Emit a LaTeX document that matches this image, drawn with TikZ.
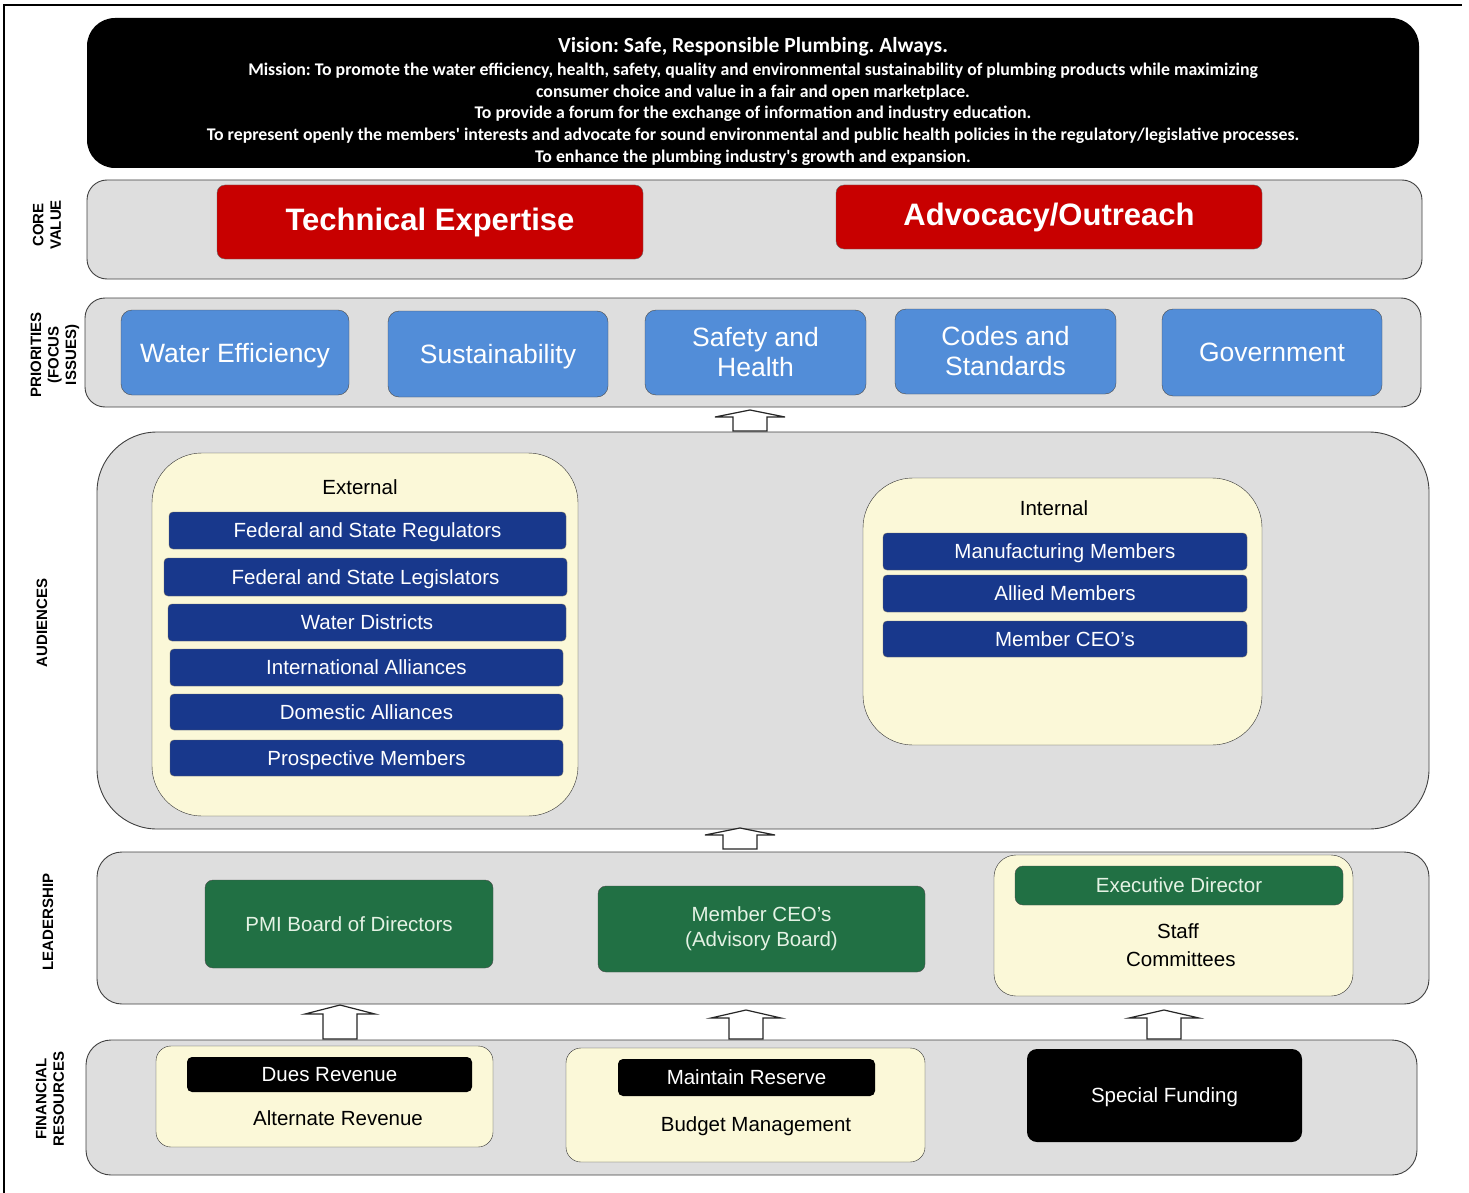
\documentclass[tikz,border=0pt]{standalone}
\usepackage{fontspec}
\setmainfont{Liberation Sans}
\newfontfamily\missionfont{Carlito}
\usetikzlibrary{positioning}
\frenchspacing
\definecolor{bandgray}{RGB}{222,222,222}
\definecolor{corered}{RGB}{200,0,0}
\definecolor{focusblue}{RGB}{82,141,216}
\definecolor{navy}{RGB}{24,56,140}
\definecolor{leadgreen}{RGB}{33,112,68}
\definecolor{paletext}{RGB}{228,242,228}
\definecolor{cream}{RGB}{251,248,216}
\tikzstyle{band} = [draw=black!75,line width=0.9pt,fill=bandgray,rounded corners=20pt,inner sep=0]
\tikzstyle{vision} = [fill=black,rounded corners=28pt,inner sep=0]
\tikzstyle{corebox} = [draw=black!60,fill=corered,rounded corners=8pt,text=white,font=\fontsize{31}{36}\selectfont\bfseries]
\tikzstyle{focus} = [draw=black!70,fill=focusblue,rounded corners=11pt,text=white,align=center,font=\fontsize{26.5}{30}\selectfont]
\tikzstyle{group} = [draw=black!80,fill=cream,inner sep=0]
\tikzstyle{aud} = [draw=black!60,fill=navy,rounded corners=4pt,text=white,text depth=0pt,font=\fontsize{20.5}{24}\selectfont]
\tikzstyle{lead} = [draw=black!70,fill=leadgreen,rounded corners=8pt,text=paletext,align=center,font=\fontsize{20.5}{25}\selectfont]
\tikzstyle{fund} = [fill=black,rounded corners=5pt,text=white,text depth=0pt,font=\fontsize{20.5}{24}\selectfont]
\tikzstyle{plain} = [align=center,font=\fontsize{20.5}{28}\selectfont]
\tikzstyle{oneline} = [text depth=0pt]
\tikzstyle{side} = [rotate=90,align=center,font=\fontsize{15}{17.5}\selectfont\bfseries]
\tikzstyle{blockarrow} = [draw=black!85,line width=1.2pt,fill=white]
% block arrow pointing up: base point, shaft length, head length
\def \blockup#1#2#3{\draw[blockarrow] (#1) ++(-17,0) -- ++(0,-#2) -- ++(-18,0) -- ++(35,-#3) -- ++(35,#3) -- ++(-18,0) -- ++(0,#2) -- cycle;}

\begin{document}
\begin{tikzpicture}[x=1pt,y=-1pt]
  \useasboundingbox (0,0) rectangle (1469,1193);
  \draw[line width=1.5pt] (4,1193) -- (4,5) -- (1462,5);

  % vision and mission
  \node[vision,minimum width=1332,minimum height=150] (vision) at (753,93) {};
  \node[text=white,align=center,font=\missionfont\bfseries\fontsize{17.8}{21.75}\selectfont] (mission) at (753,101.5)
    {{\fontsize{21.5}{24}\selectfont Vision: Safe, Responsible Plumbing. Always.}\\[1pt]
     Mission: To promote the water efficiency, health, safety, quality and environmental sustainability of plumbing products while maximizing\\
     consumer choice and value in a fair and open marketplace.\\
     To provide a forum for the exchange of information and industry education.\\
     To represent openly the members' interests and advocate for sound environmental and public health policies in the regulatory/legislative processes.\\
     To enhance the plumbing industry's growth and expansion.};

  % core value
  \node[band,minimum width=1335,minimum height=99] (core) at (754.5,229.5) {};
  \node[side] (corelbl) at (47,225) {CORE\\VALUE};
  \node[corebox,minimum width=426,minimum height=74] (tech) at (430,222) {Technical Expertise};
  \node[corebox,minimum width=426,minimum height=64] (advo) at (1049,217) {Advocacy/Outreach};

  % priorities
  \node[band,minimum width=1336,minimum height=109] (prio) at (753,352.5) {};
  \node[side] (priolbl) at (55,355) {PRIORITIES\\(FOCUS\\ISSUES)};
  \node[focus,oneline,minimum width=228,minimum height=85] (water) at (235,352.5) {Water Efficiency};
  \node[focus,oneline,minimum width=220,minimum height=86] (sust) at (498,354) {Sustainability};
  \node[focus,minimum width=221,minimum height=85] (safety) at (755.5,352.5) {Safety and\\Health};
  \node[focus,minimum width=221,minimum height=85] (codes) at (1005.5,351.5) {Codes and\\Standards};
  \node[focus,oneline,minimum width=220,minimum height=87] (gov) at (1272,352.5) {Government};

  % audiences
  \node[band,rounded corners=60pt,minimum width=1332,minimum height=397] (aud) at (763,630.5) {};
  \node[side] (audlbl) at (42,623) {AUDIENCES};
  \node[group,rounded corners=50pt,minimum width=426,minimum height=363] (external) at (365,634.5) {};
  \node[plain] (extlbl) at (360,487) {External};
  \node[aud,minimum width=397,minimum height=37] (reg) at (367.5,530.5) {Federal and State Regulators};
  \node[aud,minimum width=403,minimum height=38] (leg) at (365.5,577) {Federal and State Legislators};
  \node[aud,minimum width=398,minimum height=37] (wd) at (367,622.5) {Water Districts};
  \node[aud,minimum width=393,minimum height=37] (intl) at (366.5,667.5) {International Alliances};
  \node[aud,minimum width=393,minimum height=36] (dom) at (366.5,712) {Domestic Alliances};
  \node[aud,minimum width=393,minimum height=36] (pros) at (366.5,758) {Prospective Members};
  \node[group,rounded corners=50pt,minimum width=399,minimum height=267] (internal) at (1062.5,611.5) {};
  \node[plain] (intlbl) at (1054,508) {Internal};
  \node[aud,minimum width=364,minimum height=37] (manu) at (1065,551.5) {Manufacturing Members};
  \node[aud,minimum width=364,minimum height=37] (allied) at (1065,593.5) {Allied Members};
  \node[aud,minimum width=364,minimum height=36] (ceos) at (1065,639) {Member CEO's};

  % leadership
  \node[band,rounded corners=25pt,minimum width=1332,minimum height=152] (lead) at (763,928) {};
  \node[side] (leadlbl) at (48,922) {LEADERSHIP};
  \node[lead,oneline,minimum width=288,minimum height=88] (pmi) at (349,924) {PMI Board of Directors};
  \node[lead,minimum width=327,minimum height=86] (advisory) at (761.5,929) {Member CEO's\\(Advisory Board)};
  \node[group,rounded corners=22pt,minimum width=359,minimum height=141] (staffgrp) at (1173.5,925.5) {};
  \node[lead,oneline,minimum width=328,minimum height=39] (exec) at (1179,885.5) {Executive Director};
  \node[plain] (staff) at (1178,945) {Staff\\\ Committees};

  % financial resources
  \node[band,rounded corners=25pt,minimum width=1331,minimum height=135] (fin) at (751.5,1107.5) {};
  \node[side] (finlbl) at (50,1099) {FINANCIAL\\RESOURCES};
  \node[group,rounded corners=15pt,minimum width=337,minimum height=101] (revgrp) at (324.5,1096.5) {};
  \node[fund,minimum width=285,minimum height=35] (dues) at (329.5,1074.5) {Dues Revenue};
  \node[plain] (alt) at (338,1118) {Alternate Revenue};
  \node[group,rounded corners=15pt,minimum width=359,minimum height=114] (resgrp) at (745.5,1105) {};
  \node[fund,minimum width=257,minimum height=37] (reserve) at (746.5,1077.5) {Maintain Reserve};
  \node[plain] (budget) at (756,1126) {Budget Management};
  \node[fund,rounded corners=10pt,minimum width=275,minimum height=93] (special) at (1164.5,1095.5) {Special Funding};

  % block arrows between the bands
  \coordinate (up1) at (750,431);
  \coordinate (up2) at (740,849);
  \coordinate (up3) at (340,1039);
  \coordinate (up4) at (746,1039);
  \coordinate (up5) at (1164,1039);
  \blockup{up1}{14}{7}
  \blockup{up2}{14}{7}
  \blockup{up3}{25}{9}
  \blockup{up4}{21}{8}
  \blockup{up5}{21}{8}
\end{tikzpicture}
\end{document}
